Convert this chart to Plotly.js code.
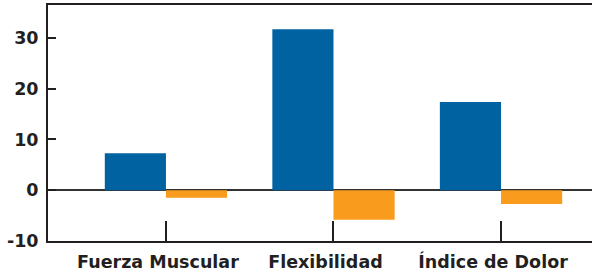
<!DOCTYPE html>
<html>
<head>
<meta charset="utf-8">
<script src="https://cdn.plot.ly/plotly-3.0.1.min.js"></script>
<style>html,body{margin:0;padding:0;background:#fff;}#chart{width:592px;height:274px;}</style>
</head>
<body>
<div id="chart"></div>
<script>
const categories = ["Fuerza Muscular", "Flexibilidad", "Índice de Dolor"];
const seriesA = [7.3, 31.7, 17.4];
const seriesB = [-1.5, -5.8, -2.7];
const yTickVals = [-10, 0, 10, 20, 30];
const yTickText = ["-10", "0", "10", "20", "30"];

const ink = "#231f20";
const font = {family: "DejaVu Sans, sans-serif", size: 17.5, color: ink, weight: 700};

const data = [
  {type: "bar", x: categories, y: seriesA, name: "A", marker: {color: "#0062a1"}},
  {type: "bar", x: categories, y: seriesB, name: "B", marker: {color: "#f99b1c"}}
];

const layout = {
  width: 592, height: 274,
  margin: {l: 48, r: 0, t: 5, b: 33, pad: 0},
  paper_bgcolor: "#fff", plot_bgcolor: "#fff",
  showlegend: false,
  barmode: "group",
  bargap: 0.27, bargroupgap: 0,
  font: font,
  xaxis: {
    type: "category",
    range: [-0.704, 2.543],
    showline: true, linecolor: ink, linewidth: 2, mirror: true,
    ticks: "inside", ticklen: 20, tickwidth: 2, tickcolor: ink,
    showgrid: false, zeroline: false,
    tickfont: font, ticklabelstandoff: 4, ticklabelshift: -8, fixedrange: true
  },
  yaxis: {
    range: [-10, 36.5],
    tickvals: yTickVals, ticktext: yTickText,
    showline: true, linecolor: ink, linewidth: 2,
    ticks: "inside", ticklen: 8, tickwidth: 2, tickcolor: ink,
    showgrid: false,
    zeroline: true, zerolinecolor: "#333", zerolinewidth: 2,
    tickfont: font, ticklabelstandoff: 4, fixedrange: true
  }
};

Plotly.newPlot("chart", data, layout, {displayModeBar: false, staticPlot: true});
</script>
</body>
</html>
